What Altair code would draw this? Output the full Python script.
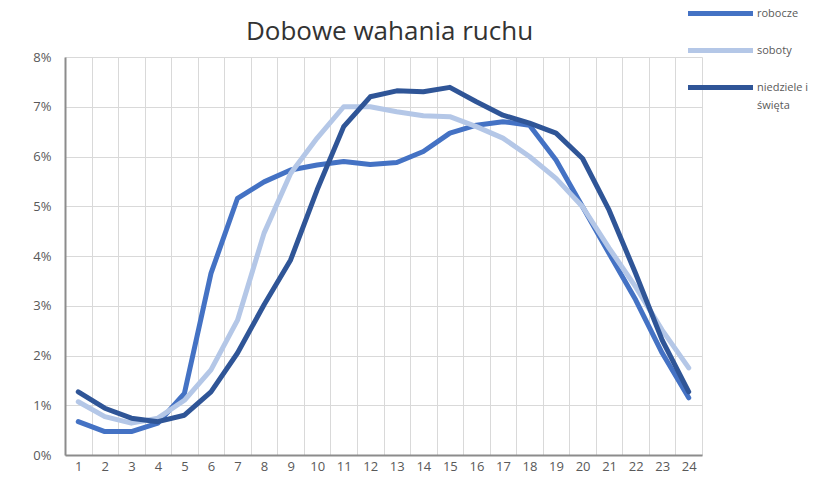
import altair as alt
import pandas as pd

hours = list(range(1, 25))
robocze = [0.67, 0.47, 0.47, 0.64, 1.24, 3.65, 5.16, 5.49, 5.73, 5.83, 5.90, 5.84,
           5.88, 6.10, 6.47, 6.63, 6.70, 6.63, 5.93, 4.99, 4.05, 3.12, 2.05, 1.15]
soboty = [1.07, 0.77, 0.64, 0.74, 1.10, 1.71, 2.71, 4.46, 5.66, 6.37, 7.00, 7.00,
          6.90, 6.82, 6.80, 6.60, 6.37, 6.00, 5.56, 4.99, 4.16, 3.38, 2.51, 1.75]
niedziele = [1.27, 0.94, 0.74, 0.67, 0.80, 1.27, 2.05, 3.02, 3.92, 5.33, 6.60, 7.20,
             7.32, 7.30, 7.39, 7.10, 6.83, 6.67, 6.47, 5.96, 4.92, 3.65, 2.31, 1.27]
series_names = ["robocze", "soboty", "niedziele i święta"]
series_colors = ["#4472C4", "#B4C7E7", "#2F5597"]
y_ticks = list(range(0, 9))

rows = []
for name, vals in zip(series_names, [robocze, soboty, niedziele]):
    for h, v in zip(hours, vals):
        rows.append({"godzina": h, "udzial": v, "seria": name})
df = pd.DataFrame(rows)

FONT = "Open Sans"

chart = alt.Chart(df).mark_line(
    strokeWidth=5, strokeCap="round", strokeJoin="round"
).encode(
    x=alt.X("godzina:O", title=None,
            scale=alt.Scale(type="band", paddingInner=0, paddingOuter=0),
            axis=alt.Axis(labelAngle=0, tickBand="extent", ticks=False,
                          labelPadding=5, grid=True)),
    y=alt.Y("udzial:Q", title=None,
            scale=alt.Scale(domain=[0, 8], nice=False),
            axis=alt.Axis(values=y_ticks, labelExpr="datum.value + '%'",
                          ticks=False, labelPadding=14, grid=True)),
    color=alt.Color("seria:N",
                    scale=alt.Scale(domain=series_names, range=series_colors),
                    legend=alt.Legend(
                        title=None, orient="none", legendX=628, legendY=-51,
                        symbolType="M-6.5,0H6.5", symbolSize=100,
                        symbolStrokeWidth=5, symbolOffset=20,
                        labelOffset=29, rowPadding=16,
                        labelFont=FONT, labelFontSize=11, labelColor="#595959",
                        labelExpr="datum.label == 'niedziele i święta' ? ['niedziele i', 'święta'] : datum.label",
                        padding=0)),
    order=alt.Order("godzina:O"),
).properties(
    width=637, height=398,
    title=alt.TitleParams("Dobowe wahania ruchu", font=FONT, fontSize=26,
                          fontWeight="normal", color="#333333", offset=-39, dx=6),
    autosize=alt.AutoSizeParams(type="none"),
    padding={"left": 57, "top": 49, "right": 110, "bottom": 20},
).configure(
    style={"guide-label": {"lineHeight": 18}}
).configure_view(
    stroke=None
).configure_axis(
    labelFont=FONT, labelFontSize=13, labelColor="#595959",
    gridColor="#D9D9D9", gridWidth=1,
    domainColor="#8C8C8C", domainWidth=2,
)

chart.save("out.html", embed_options={"renderer": "svg", "actions": False})
